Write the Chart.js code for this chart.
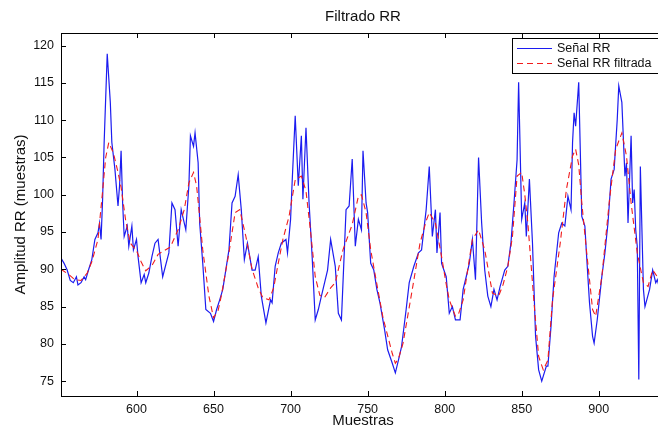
<!DOCTYPE html>
<html>
<head>
<meta charset="utf-8">
<script src="https://cdn.jsdelivr.net/npm/chart.js@4.4.1/dist/chart.umd.min.js"></script>
<style>
  html, body { margin: 0; padding: 0; background: #fff; overflow: hidden; }
  #wrap { width: 668px; height: 430px; }
</style>
</head>
<body>
<div id="wrap"><canvas id="rrChart" width="668" height="430"></canvas></div>
<script>
// Raw RR signal (sample number, amplitude)
const rawSamples = [551,553,555,557,559,561,562,564,566,567,569,571,573,575,576,577,578,579,581,583,584,586,588,589,590,591,592,594,595,597,598,600,601,603,605,606,608,610,612,614,617,621,623,625,627,629,632,634,635,637,638,640,641,643,645,648,650,652,654,656,660,662,664,666,668,670,672,675,677,679,681,684,687,688,690,692,694,697,698,700,701,703,705,707,708,710,712,714,716,718,720,724,726,729,731,733,736,738,740,742,744,746,747,749,750,752,754,756,758,761,763,766,768,770,772,775,777,780,783,785,788,790,792,794,795,797,798,801,803,805,807,810,812,814,816,818,820,822,824,826,828,830,832,834,836,839,841,843,845,847,848,850,852,853,855,857,859,861,863,866,867,869,871,874,876,878,880,882,883,884,885,887,889,891,892,894,896,897,899,902,904,906,908,910,912,913,915,917,918,919,921,922,923,924,925,926,927,929,930,933,935,937,938,940];
const rawValues = [91.5,90.8,89.9,88.5,88.2,89.0,87.9,88.2,89.0,88.6,90.0,91.3,94.0,94.9,96.2,94.0,99.4,107.0,118.9,112.4,107.0,103.4,98.5,101.2,105.9,98.9,94.4,95.8,93.1,95.8,92.6,94.0,91.7,88.2,89.3,88.2,89.5,91.7,93.5,94.0,89.0,92.2,98.9,98.0,93.1,98.0,95.3,101.2,107.9,106.5,108.3,104.3,96.2,90.8,84.6,84.1,83.0,84.6,85.9,87.3,92.6,98.9,99.8,102.7,98.0,91.3,93.5,89.9,89.9,91.7,86.4,82.8,85.9,85.5,90.4,92.2,93.5,94.0,92.2,96.7,101.6,110.6,101.2,107.9,99.4,109.0,98.9,91.7,83.2,84.6,86.4,89.9,94.0,90.4,84.1,83.2,98.0,98.5,104.8,93.1,96.7,95.3,105.9,98.9,97.6,90.8,89.9,87.3,85.5,81.9,79.2,77.4,76.1,77.8,79.6,84.6,88.2,90.4,92.2,92.6,98.0,103.8,94.4,98.0,92.2,97.6,90.8,89.0,84.1,85.0,83.2,83.2,87.3,89.0,90.8,94.0,88.6,105.0,96.2,89.9,86.4,85.0,87.3,85.9,87.7,89.9,90.4,93.5,98.9,104.7,115.1,96.7,98.9,94.4,102.1,93.5,81.0,76.5,75.0,77.0,77.0,82.3,89.0,94.9,96.2,95.8,99.8,98.0,107.0,111.0,109.2,115.1,97.1,95.8,92.2,85.5,81.0,80.1,83.2,89.0,92.2,96.2,102.1,103.4,110.1,114.6,112.4,102.5,104.3,96.2,107.9,98.9,100.7,95.3,93.1,75.2,103.8,87.3,85.0,87.3,89.9,88.2,88.6,87.0];

// Filtered RR signal
const filtSamples = [551,556,560,564,568,571,575,578,580,582,585,588,590,593,596,600,603,606,610,614,618,622,627,631,634,637,639,641,643,647,650,653,655,660,664,667,671,675,679,682,686,689,692,695,699,703,707,710,713,716,719,722,726,729,734,740,744,746,749,752,756,760,766,768,770,773,779,784,788,790,794,798,801,803,807,809,812,815,818,822,826,831,835,838,841,844,847,850,852,854,858,861,864,867,870,875,879,883,885,887,889,892,896,898,902,907,911,915,918,921,925,929,932,935,938,940];
const filtValues = [90.0,89.3,88.6,88.5,89.5,91.0,94.0,100.5,105.0,107.0,105.6,103.0,101.0,96.5,93.5,92.5,91.0,89.8,90.5,92.0,92.5,93.0,95.3,98.0,101.6,103.0,101.2,97.0,92.6,86.4,83.5,84.5,86.4,92.2,97.6,98.0,94.4,90.0,87.5,86.2,85.9,87.5,90.8,94.0,97.1,102.0,102.5,100.5,95.0,89.0,86.5,86.2,87.5,88.2,92.6,96.0,99.8,100.0,97.6,92.6,88.0,83.5,78.7,77.4,78.0,80.1,87.3,93.5,96.5,97.6,96.2,91.7,88.0,85.9,83.7,84.0,85.9,90.0,94.0,95.3,92.6,86.8,86.4,88.0,90.4,94.4,102.5,103.0,100.0,96.2,85.5,78.3,76.5,77.8,85.9,93.5,100.7,105.2,106.1,104.0,98.9,92.6,84.6,83.7,89.0,99.4,106.1,108.3,105.2,98.9,92.2,88.2,87.7,89.9,89.0,89.0];

// Axes
const xTicks = [600, 650, 700, 750, 800, 850, 900];
const yTicks = [75, 80, 85, 90, 95, 100, 105, 110, 115, 120];
const xRange = [551, 943];
const yRange = [73, 121.7];
const seriesLabels = ['Señal RR', 'Señal RR filtrada'];

const FONT = "'Liberation Sans', Arial, sans-serif";
const BLUE = '#1c1cf0';
const RED = '#f01c1c';
const DASH = [6, 4];

const toPoints = (xs, ys) => xs.map((x, i) => ({ x: x, y: ys[i] }));

// MATLAB style box with inward tick marks
const matlabAxes = {
  id: 'matlabAxes',
  afterDatasetsDraw(chart) {
    const { ctx, chartArea: a, scales: { x, y } } = chart;
    ctx.save();
    ctx.strokeStyle = '#000';
    ctx.lineWidth = 1;
    ctx.beginPath();
    x.ticks.forEach(t => {
      const px = Math.round(x.getPixelForValue(t.value)) + 0.5;
      ctx.moveTo(px, a.bottom); ctx.lineTo(px, a.bottom - 5);
      ctx.moveTo(px, a.top); ctx.lineTo(px, a.top + 5);
    });
    y.ticks.forEach(t => {
      const py = Math.round(y.getPixelForValue(t.value)) + 0.5;
      ctx.moveTo(a.left, py); ctx.lineTo(a.left + 5, py);
      ctx.moveTo(a.right, py); ctx.lineTo(a.right - 5, py);
    });
    ctx.stroke();
    ctx.strokeRect(Math.round(a.left) + 0.5, Math.round(a.top) + 0.5,
      Math.round(a.right - a.left), Math.round(a.bottom - a.top));
    ctx.restore();
  }
};

// Legend box in the top right corner of the axes
const insideLegend = {
  id: 'insideLegend',
  afterDraw(chart) {
    const { ctx, chartArea: a } = chart;
    const left = 512, top = Math.round(a.top) + 5.5, h = 35;
    ctx.save();
    ctx.fillStyle = '#fff';
    ctx.fillRect(left, top, a.right - 4 - left, h);
    ctx.strokeStyle = '#000';
    ctx.lineWidth = 1;
    ctx.strokeRect(left + 0.5, top, a.right - 4 - left, h);
    ctx.font = '12.5px ' + FONT;
    ctx.textBaseline = 'middle';
    ctx.fillStyle = '#111';
    const styles = [{ c: BLUE, d: [] }, { c: RED, d: DASH }];
    seriesLabels.forEach((label, i) => {
      const yy = top + 10 + i * 15;
      ctx.beginPath();
      ctx.strokeStyle = styles[i].c;
      ctx.setLineDash(styles[i].d);
      ctx.moveTo(517, yy); ctx.lineTo(552, yy);
      ctx.stroke();
      ctx.setLineDash([]);
      ctx.fillText(label, 557, yy);
    });
    ctx.restore();
  }
};

new Chart(document.getElementById('rrChart'), {
  type: 'line',
  data: {
    datasets: [
      {
        label: seriesLabels[1],
        data: toPoints(filtSamples, filtValues),
        borderColor: RED,
        borderWidth: 1.1,
        borderDash: DASH,
        pointRadius: 0,
        tension: 0,
        order: 1
      },
      {
        label: seriesLabels[0],
        data: toPoints(rawSamples, rawValues),
        borderColor: BLUE,
        borderWidth: 1.2,
        pointRadius: 0,
        tension: 0,
        order: 2
      }
    ]
  },
  options: {
    responsive: false,
    animation: false,
    layout: { padding: { left: 0, right: 3, top: 0, bottom: 0 } },
    plugins: {
      legend: { display: false },
      tooltip: { enabled: false },
      title: {
        display: true,
        text: 'Filtrado RR',
        fullSize: false,
        color: '#111',
        font: { family: FONT, size: 15, weight: 'normal' },
        padding: { top: 8, bottom: 7 }
      }
    },
    scales: {
      x: {
        type: 'linear',
        min: xRange[0],
        max: xRange[1],
        afterBuildTicks: s => { s.ticks = xTicks.map(v => ({ value: v })); },
        afterFit: s => { s.height = 34; },
        grid: { display: false, drawTicks: false },
        border: { display: false },
        ticks: { color: '#111', font: { family: FONT, size: 12.5 }, padding: 6, maxRotation: 0 },
        title: {
          display: true,
          text: 'Muestras',
          color: '#111',
          font: { family: FONT, size: 15, lineHeight: 1.07 },
          padding: { top: 0, bottom: 1 }
        }
      },
      y: {
        min: yRange[0],
        max: yRange[1],
        afterBuildTicks: s => { s.ticks = yTicks.map(v => ({ value: v })); },
        afterFit: s => { s.width = 61; },
        grid: { display: false, drawTicks: false },
        border: { display: false },
        ticks: { color: '#111', font: { family: FONT, size: 12.5 }, padding: 7 },
        title: {
          display: true,
          text: 'Amplitud RR (muestras)',
          color: '#111',
          font: { family: FONT, size: 15, lineHeight: 1.07 },
          padding: { top: 13, bottom: 0 }
        }
      }
    }
  },
  plugins: [matlabAxes, insideLegend]
});
</script>
</body>
</html>
